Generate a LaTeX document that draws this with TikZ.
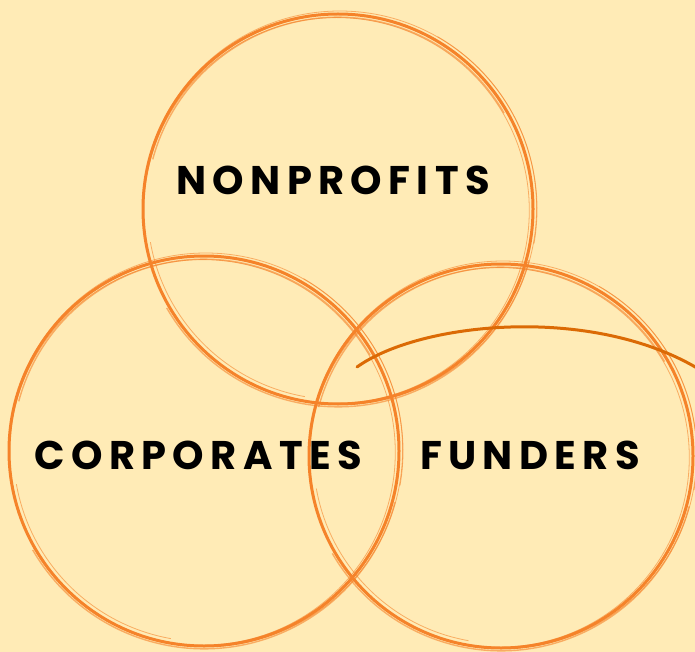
\documentclass[tikz,border=0pt]{standalone}
\usepackage{fontspec}
\usepackage{xcolor}
\usepackage{tikz}
\usetikzlibrary{positioning,calc}
\newfontfamily\vennfont[LetterSpace=16]{Poppins}

\definecolor{paper}{HTML}{FFEBB6}
\definecolor{brush}{HTML}{F5832A}
\definecolor{swoosh}{HTML}{DB6A05}

\tikzset{
  ring/.style={draw=brush, line width=3pt},
  ringhair/.style={draw=brush, line width=0.8pt, opacity=0.6},
  setlabel/.style={font=\vennfont\bfseries\fontsize{40}{40}\selectfont, text=black, inner sep=0pt}
}

\begin{document}
\begin{tikzpicture}[x=1pt, y=-1pt]
    \fill [paper] (0, 0) rectangle (695, 652);
    \useasboundingbox (0, 0) rectangle (695, 652);
    % three brushed rings
    \foreach \cx/\cy/\r in {338/209/195, 204/451/195, 501/456/192} {
        \draw [ring] (\cx, \cy) circle (\r);
        \draw [ringhair] (\cx+1.8, \cy-1.2) circle (\r+1.8);
        \draw [ringhair] (\cx-1.5, \cy+1.4) circle (\r-2.2);
        \draw [ringhair, line width=1.4pt] ($(\cx, \cy)+(15:\r+2.8)$) arc (15:150:\r+2.8);
        \draw [ringhair, line width=1.4pt] ($(\cx, \cy)+(195:\r-3.2)$) arc (195:330:\r-3.2);
        \draw [ringhair] ($(\cx, \cy)+(-60:\r+4)$) arc (-60:10:\r+4);
        \draw [ringhair] ($(\cx, \cy)+(100:\r-4.5)$) arc (100:170:\r-4.5);
    }
    % labels
    \node [setlabel] (nonprofits) at (333, 180) {NONPROFITS};
    \node [setlabel] (corporates) at (198, 455) {CORPORATES};
    \node [setlabel] (funders) at (530, 455) {FUNDERS};
    % swoosh over the right ring
    \coordinate (swooshstart) at (357, 367);
    \coordinate (swooshend) at (697, 368);
    \draw [swoosh, line width=3pt, line cap=round] (swooshstart) .. controls (420, 322) and (590, 305) .. (swooshend);
\end{tikzpicture}
\end{document}
